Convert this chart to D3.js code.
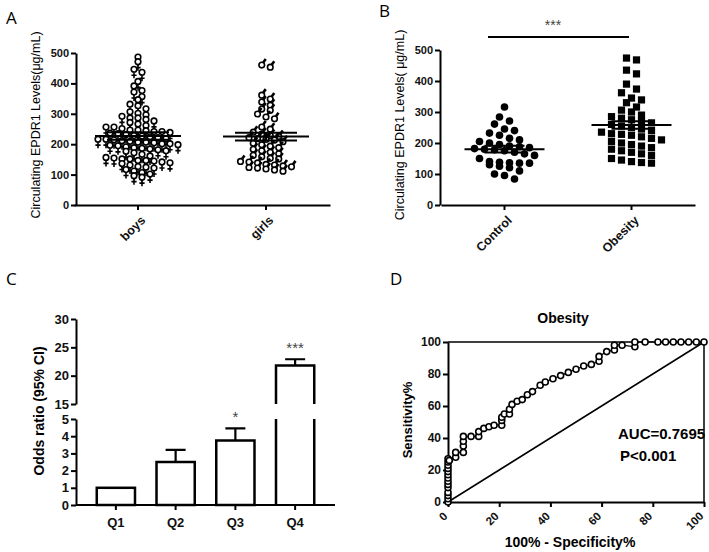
<!DOCTYPE html>
<html>
<head>
<meta charset="utf-8">
<script src="https://cdnjs.cloudflare.com/ajax/libs/d3/7.8.5/d3.min.js"></script>
<style>
  body { margin: 0; background: #fff; }
  svg { font-family: "Liberation Sans", Arial, sans-serif; }
  .axis path, .axis line { stroke: #000; stroke-width: 2; }
  .axis text { font-weight: bold; fill: #111; }
</style>
</head>
<body>
<script>
// ---- panel A: EPDR1 by sex
const sexGroups = ["boys", "girls"];
const boys = [480, 465, 440, 430, 400, 385, 370, 365, 350, 340, 325, 320, 310, 300, 295, 290, 285, 280, 280, 275,
  270, 265, 260, 255, 250, 250, 245, 240, 240, 238, 235, 235, 232, 230, 228, 225, 222, 220, 218, 215,
  212, 210, 210, 208, 205, 203, 200, 200, 198, 195, 195, 192, 190, 188, 185, 182, 180, 178, 175, 172,
  170, 165, 160, 155, 150, 148, 145, 145, 140, 140, 138, 135, 132, 130, 125, 120, 118, 115, 110, 105,
  100, 95, 90, 85];
const girls = [467, 460, 368, 355, 345, 335, 322, 318, 306, 296, 290, 263, 256, 246, 240, 235, 232, 228, 225, 222,
  220, 215, 210, 205, 200, 195, 190, 185, 180, 175, 170, 165, 160, 158, 150, 148, 145, 140, 138, 135,
  132, 130, 128, 125, 122, 118];
const sexMean = [227, 225];
const sexSem = [12, 13];

// ---- panel B: EPDR1 control vs obesity
const bmiGroups = ["Control", "Obesity"];
const control = [316, 284, 271, 261, 245, 240, 232, 225, 215, 210, 205, 200, 195, 190, 188, 185, 182, 180, 178, 175,
  170, 165, 160, 150, 140, 138, 136, 135, 135, 130, 125, 120, 110, 100, 95, 84];
const obesity = [474, 468, 435, 423, 390, 374, 362, 345, 339, 330, 316, 306, 300, 290, 285, 280, 275, 270, 265, 260,
  255, 250, 245, 240, 235, 230, 228, 225, 220, 215, 210, 205, 200, 195, 190, 185, 180, 175, 170, 165,
  160, 150, 145, 140, 137, 135];
const bmiMean = [180, 258];
const bmiSem = [11, 12];

// ---- panel C: odds ratio by quartile
const quartiles = ["Q1", "Q2", "Q3", "Q4"];
const oddsRatio = [1, 2.5, 3.75, 21.8];
const oddsUpper = [1, 3.2, 4.45, 22.9];
const oddsStars = ["", "", "*", "***"];

// ---- panel D: ROC curve
const fpr = [0, 0, 0, 0, 0, 0, 0, 0, 0, 0, 0, 0, 0, 0, 0.5, 3, 3, 6, 6, 6, 6, 9, 12, 12, 14, 16, 18, 21, 21, 21,
  22, 24, 24, 25, 27, 29, 31, 33, 36, 38, 41, 44, 47, 50, 53, 56, 59, 59, 62, 65, 65, 68, 73, 73, 77,
  82, 85, 88, 91, 94, 97, 100];
const tpr = [0, 2, 4, 6, 9, 11, 13, 15, 17, 19, 21, 23, 25, 27, 26, 28, 31, 31, 35, 38, 41, 41, 41, 44, 46, 47, 48, 48, 51, 53,
  55, 55, 58, 61, 63, 64, 67, 69, 73, 75, 77, 79, 81, 83, 85, 86, 88, 91, 94, 95, 98, 98, 97, 100, 100,
  100, 100, 100, 100, 100, 100, 100];

const W = 709, H = 552;
const svg = d3.select("body").append("svg").attr("width", W).attr("height", H);

// panel letters
[["A", 6, 24], ["B", 379, 17], ["C", 6, 285], ["D", 390, 285]].forEach(d => {
  svg.append("text").attr("x", d[1]).attr("y", d[2]).text(d[0])
    .style("font-family", "'Open Sans', sans-serif").style("font-size", "17px");
});

// spread points of equal height sideways (column scatter)
function swarm(values, y, cx, rowH, gap) {
  const rows = d3.group(values.map(v => ({ v: v, py: y(v) })), d => Math.round(d.py / rowH));
  const out = [];
  rows.forEach(list => {
    list.forEach((d, i) => {
      d.px = cx + (i - (list.length - 1) / 2) * gap;
      out.push(d);
    });
  });
  return out;
}

function rotateLabels(g, dx, dy) {
  g.selectAll(".tick text")
    .attr("text-anchor", "end")
    .attr("x", 0).attr("y", 0).attr("dy", "0.35em")
    .attr("transform", "translate(" + dx + "," + dy + ") rotate(-45)");
}

function meanSem(g, x, y, groups, means, sems, halfMean, halfCap) {
  groups.forEach((k, i) => {
    const cx = x(k) + x.bandwidth() / 2;
    g.append("line").attr("x1", cx - halfMean).attr("x2", cx + halfMean)
      .attr("y1", y(means[i])).attr("y2", y(means[i])).attr("stroke", "#000").attr("stroke-width", 2);
    g.append("line").attr("x1", cx).attr("x2", cx)
      .attr("y1", y(means[i] - sems[i])).attr("y2", y(means[i] + sems[i])).attr("stroke", "#000").attr("stroke-width", 2);
    [-1, 1].forEach(s => {
      g.append("line").attr("x1", cx - halfCap).attr("x2", cx + halfCap)
        .attr("y1", y(means[i] + s * sems[i])).attr("y2", y(means[i] + s * sems[i]))
        .attr("stroke", "#000").attr("stroke-width", 2);
    });
  });
}

// ================= Panel A
{
  const g = svg.append("g");
  const y = d3.scaleLinear().domain([0, 500]).range([205, 53]);
  const x = d3.scaleBand().domain(sexGroups).range([74, 330]);

  g.append("g").attr("class", "axis").attr("transform", "translate(76,0)")
    .call(d3.axisLeft(y).ticks(5).tickSize(5).tickSizeOuter(0).tickPadding(2))
    .selectAll("text").style("font-size", "11px");
  const xa = g.append("g").attr("class", "axis").attr("transform", "translate(0,205)")
    .call(d3.axisBottom(x).tickSize(5).tickSizeOuter(0));
  xa.selectAll("text").style("font-size", "12.5px");
  rotateLabels(xa, 5, 13);

  const boyPts = swarm(boys, y, x("boys") + x.bandwidth() / 2, 6, 8);
  const girlPts = swarm(girls, y, x("girls") + x.bandwidth() / 2, 6, 8.5);

  // female sign marker
  const fem = g.selectAll(".fem").data(boyPts).enter().append("g")
    .attr("transform", d => "translate(" + d.px + "," + d.py + ")");
  fem.append("circle").attr("cy", -2).attr("r", 2.8).attr("fill", "#fff").attr("stroke", "#000").attr("stroke-width", 1.6);
  fem.append("path").attr("d", "M0,1V7M-2.6,4H2.6").attr("stroke", "#000").attr("stroke-width", 1.6);

  // male sign marker
  const mal = g.selectAll(".mal").data(girlPts).enter().append("g")
    .attr("transform", d => "translate(" + d.px + "," + d.py + ")");
  mal.append("circle").attr("cy", 2).attr("r", 2.8).attr("fill", "#fff").attr("stroke", "#000").attr("stroke-width", 1.6);
  mal.append("path").attr("d", "M1.5,-0.5L4,-4").attr("stroke", "#000").attr("stroke-width", 2.6);

  meanSem(g, x, y, sexGroups, sexMean, sexSem, 43, 31);

  g.append("text").attr("transform", "translate(40,125) rotate(-90)").attr("text-anchor", "middle")
    .style("font-size", "12.5px").text("Circulating EPDR1 Levels(μg/mL)");
}

// ================= Panel B
{
  const g = svg.append("g");
  const y = d3.scaleLinear().domain([0, 500]).range([205, 50]);
  const x = d3.scaleBand().domain(bmiGroups).range([441, 695]);

  g.append("g").attr("class", "axis").attr("transform", "translate(440,0)")
    .call(d3.axisLeft(y).ticks(5).tickSize(5).tickSizeOuter(0).tickPadding(2))
    .selectAll("text").style("font-size", "11px");
  const xa = g.append("g").attr("class", "axis").attr("transform", "translate(0,205)")
    .call(d3.axisBottom(x).tickSize(5).tickSizeOuter(0));
  xa.selectAll("text").style("font-size", "12.5px");
  rotateLabels(xa, 5, 13);

  const cPts = swarm(control, y, x("Control") + x.bandwidth() / 2, 8, 10);
  const oPts = swarm(obesity, y, x("Obesity") + x.bandwidth() / 2, 8, 10);

  g.selectAll(".ctl").data(cPts).enter().append("circle")
    .attr("cx", d => d.px).attr("cy", d => d.py).attr("r", 3.8).attr("fill", "#000");
  g.selectAll(".obs").data(oPts).enter().append("rect")
    .attr("x", d => d.px - 3.6).attr("y", d => d.py - 3.6).attr("width", 7.2).attr("height", 7.2).attr("fill", "#000");

  meanSem(g, x, y, bmiGroups, bmiMean, bmiSem, 40, 20);

  // significance bar
  g.append("line").attr("x1", 488).attr("x2", 629).attr("y1", 37).attr("y2", 37).attr("stroke", "#000").attr("stroke-width", 2);
  g.append("text").attr("x", 553).attr("y", 30).attr("text-anchor", "middle")
    .style("font-size", "14px").style("fill", "#444").text("***");

  g.append("text").attr("transform", "translate(404,125) rotate(-90)").attr("text-anchor", "middle")
    .style("font-size", "12.5px").text("Circulating EPDR1 Levels( μg/mL)");
}

// ================= Panel C
{
  const g = svg.append("g");
  const yLo = d3.scaleLinear().domain([0, 5]).range([505, 419]);
  const yHi = d3.scaleLinear().domain([15, 30]).range([404, 319]);
  const x = d3.scaleBand().domain(quartiles).range([86, 325]).paddingInner(0.36).paddingOuter(0.18);

  g.append("g").attr("class", "axis").attr("transform", "translate(76,0)")
    .call(d3.axisLeft(yLo).tickValues([0, 1, 2, 3, 4, 5]).tickFormat(d3.format("d"))
      .tickSize(5).tickSizeOuter(0).tickPadding(2))
    .selectAll("text").style("font-size", "13px");
  g.append("g").attr("class", "axis").attr("transform", "translate(76,0)")
    .call(d3.axisLeft(yHi).tickValues([15, 20, 25, 30]).tickFormat(d3.format("d"))
      .tickSize(5).tickSizeOuter(0).tickPadding(2))
    .selectAll("text").style("font-size", "13px");

  g.append("line").attr("x1", 76).attr("x2", 335).attr("y1", 505).attr("y2", 505).attr("stroke", "#000").attr("stroke-width", 2);
  const xa = g.append("g").attr("class", "axis").attr("transform", "translate(0,505)")
    .call(d3.axisBottom(x).tickSize(5).tickPadding(8));
  xa.select(".domain").remove();
  xa.selectAll("text").style("font-size", "13px");

  quartiles.forEach((q, i) => {
    const x0 = x(q), x1 = x(q) + x.bandwidth(), cx = x0 + x.bandwidth() / 2;
    const v = oddsRatio[i], up = oddsUpper[i];
    const ys = v > 5 ? yHi : yLo;
    if (v <= 5) {
      g.append("rect").attr("x", x0).attr("y", yLo(v)).attr("width", x.bandwidth()).attr("height", yLo(0) - yLo(v))
        .attr("fill", "#fff").attr("stroke", "#000").attr("stroke-width", 2.5);
    } else {
      g.append("path").attr("d", "M" + x0 + "," + yLo(0) + "V" + yLo(5) + "M" + x1 + "," + yLo(0) + "V" + yLo(5))
        .attr("fill", "none").attr("stroke", "#000").attr("stroke-width", 2.5);
      g.append("path").attr("d", "M" + x0 + "," + yHi(15) + "V" + yHi(v) + "H" + x1 + "V" + yHi(15))
        .attr("fill", "none").attr("stroke", "#000").attr("stroke-width", 2.5);
    }
    if (up > v) {
      g.append("path").attr("d", "M" + cx + "," + ys(v) + "V" + ys(up) + "M" + (cx - 10) + "," + ys(up) + "H" + (cx + 10))
        .attr("fill", "none").attr("stroke", "#000").attr("stroke-width", 2.2);
    }
    if (oddsStars[i]) {
      g.append("text").attr("x", cx).attr("y", ys(up) - 6).attr("text-anchor", "middle")
        .style("font-size", "15px").style("fill", "#444").text(oddsStars[i]);
    }
  });

  g.append("text").attr("transform", "translate(44,411) rotate(-90)").attr("text-anchor", "middle")
    .style("font-size", "14px").style("font-weight", "bold").text("Odds ratio (95% CI)");
}

// ================= Panel D
{
  const g = svg.append("g");
  const x = d3.scaleLinear().domain([0, 100]).range([448, 704]);
  const y = d3.scaleLinear().domain([0, 100]).range([502, 342]);

  // frame
  g.append("path").attr("d", "M" + x(0) + "," + y(100) + "H" + x(100) + "V" + y(0))
    .attr("fill", "none").attr("stroke", "#000").attr("stroke-width", 1.5);

  g.append("g").attr("class", "axis").attr("transform", "translate(448,0)")
    .call(d3.axisLeft(y).tickValues([0, 20, 40, 60, 80, 100]).tickSize(5).tickSizeOuter(0).tickPadding(2))
    .selectAll("text").style("font-size", "12px");
  const xa = g.append("g").attr("class", "axis").attr("transform", "translate(0,502)")
    .call(d3.axisBottom(x).tickValues([0, 20, 40, 60, 80, 100]).tickSize(5).tickSizeOuter(0));
  xa.selectAll("text").style("font-size", "11.5px");
  rotateLabels(xa, -3, 12);

  // reference diagonal
  g.append("line").attr("x1", x(0)).attr("y1", y(0)).attr("x2", x(100)).attr("y2", y(100))
    .attr("stroke", "#000").attr("stroke-width", 1.5);

  const roc = fpr.map((f, i) => [f, tpr[i]]);
  g.append("path").datum(roc)
    .attr("d", d3.line().x(d => x(d[0])).y(d => y(d[1])))
    .attr("fill", "none").attr("stroke", "#000").attr("stroke-width", 1.2);
  g.selectAll(".roc").data(roc).enter().append("circle")
    .attr("cx", d => x(d[0])).attr("cy", d => y(d[1])).attr("r", 3)
    .attr("fill", "#fff").attr("stroke", "#000").attr("stroke-width", 1.6);

  g.append("text").attr("x", 563).attr("y", 323).attr("text-anchor", "middle")
    .style("font-size", "14px").style("font-weight", "bold").text("Obesity");
  g.append("text").attr("x", 618).attr("y", 439)
    .style("font-size", "15px").style("font-weight", "bold").text("AUC=0.7695");
  g.append("text").attr("x", 620).attr("y", 461)
    .style("font-size", "15px").style("font-weight", "bold").text("P<0.001");
  g.append("text").attr("x", 570).attr("y", 547).attr("text-anchor", "middle")
    .style("font-size", "14px").style("font-weight", "bold").text("100% - Specificity%");
  g.append("text").attr("transform", "translate(412,420) rotate(-90)").attr("text-anchor", "middle")
    .style("font-size", "13px").style("font-weight", "bold").text("Sensitivity%");
}
</script>
</body>
</html>
